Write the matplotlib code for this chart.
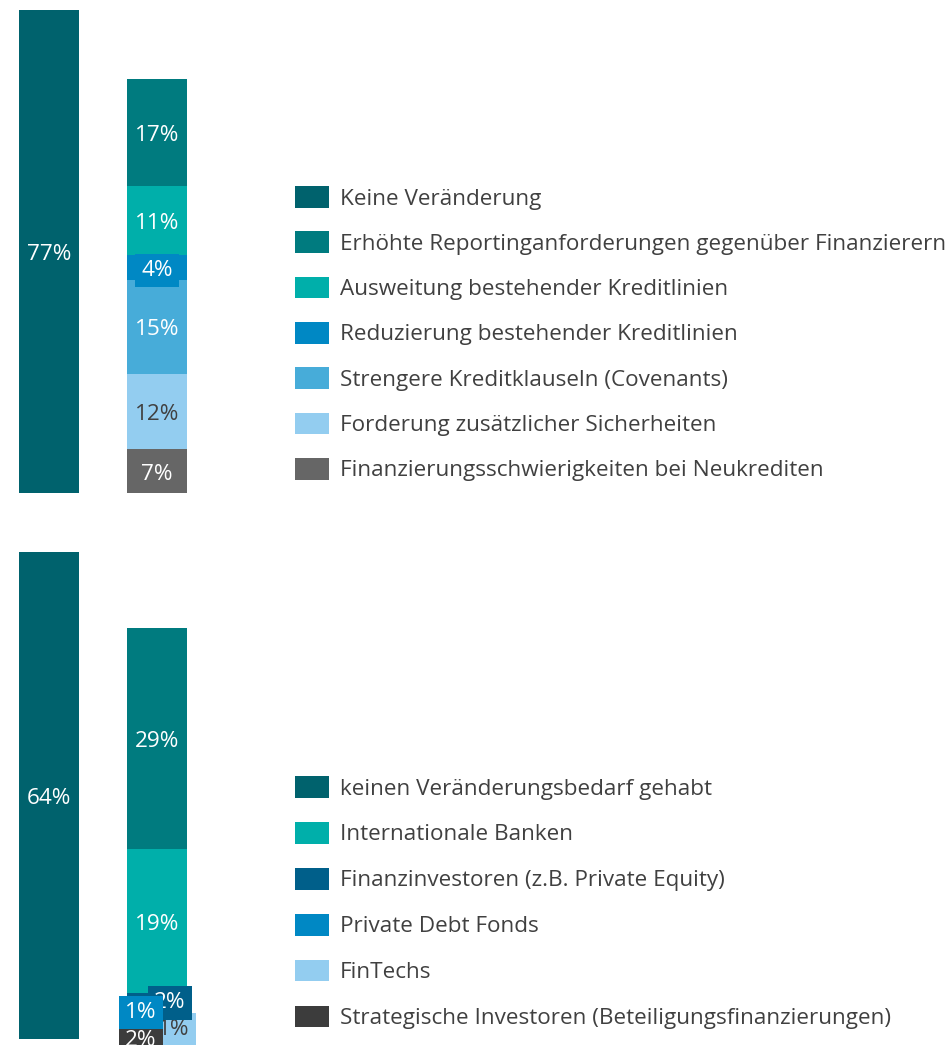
import matplotlib
matplotlib.use("Agg")
import matplotlib.pyplot as plt
from matplotlib.patches import Patch

plt.rcParams['font.family'] = ['Open Sans', 'DejaVu Sans']

TEXT = '#404040'

# ---------------- data: top chart ----------------
top_single_label = 'Keine Veränderung'
top_single_value = 77
top_stack_labels = ['Finanzierungsschwierigkeiten bei Neukrediten',
                    'Forderung zusätzlicher Sicherheiten',
                    'Strengere Kreditklauseln (Covenants)',
                    'Reduzierung bestehender Kreditlinien',
                    'Ausweitung bestehender Kreditlinien',
                    'Erhöhte Reportinganforderungen gegenüber Finanzierern']
top_stack_values = [7, 12, 15, 4, 11, 17]
top_legend_order = ['Keine Veränderung',
                    'Erhöhte Reportinganforderungen gegenüber Finanzierern',
                    'Ausweitung bestehender Kreditlinien',
                    'Reduzierung bestehender Kreditlinien',
                    'Strengere Kreditklauseln (Covenants)',
                    'Forderung zusätzlicher Sicherheiten',
                    'Finanzierungsschwierigkeiten bei Neukrediten']

# ---------------- data: bottom chart ----------------
bot_single_label = 'keinen Veränderungsbedarf gehabt'
bot_single_value = 64
bot_stack_labels = ['Strategische Investoren (Beteiligungsfinanzierungen)',
                    'FinTechs',
                    'Private Debt Fonds',
                    'Finanzinvestoren (z.B. Private Equity)',
                    'Internationale Banken',
                    '']
bot_stack_values = [2, 1, 1, 2, 19, 29]
bot_legend_order = ['keinen Veränderungsbedarf gehabt',
                    'Internationale Banken',
                    'Finanzinvestoren (z.B. Private Equity)',
                    'Private Debt Fonds',
                    'FinTechs',
                    'Strategische Investoren (Beteiligungsfinanzierungen)']

colors = {
    'Keine Veränderung': '#00626D',
    'Erhöhte Reportinganforderungen gegenüber Finanzierern': '#007B7F',
    'Ausweitung bestehender Kreditlinien': '#00AFAA',
    'Reduzierung bestehender Kreditlinien': '#0088C4',
    'Strengere Kreditklauseln (Covenants)': '#47ACD9',
    'Forderung zusätzlicher Sicherheiten': '#93CDF0',
    'Finanzierungsschwierigkeiten bei Neukrediten': '#666666',
    'keinen Veränderungsbedarf gehabt': '#00626D',
    'Internationale Banken': '#00AFAA',
    'Finanzinvestoren (z.B. Private Equity)': '#005F8A',
    'Private Debt Fonds': '#0088C4',
    'FinTechs': '#93CDF0',
    'Strategische Investoren (Beteiligungsfinanzierungen)': '#3C3C3C',
    '': '#007B7F',
}
dark_text = {'Forderung zusätzlicher Sicherheiten', 'FinTechs'}

# label offsets in pixels (dx, dy) and stacking order for crowded labels
label_offsets = {
    'Finanzinvestoren (z.B. Private Equity)': (13, 1),
    'Private Debt Fonds': (-16, 3),
    'FinTechs': (17, -7),
    'Strategische Investoren (Beteiligungsfinanzierungen)': (-16, -6),
}
label_z = {
    'FinTechs': 5,
    'Strategische Investoren (Beteiligungsfinanzierungen)': 6,
    'Finanzinvestoren (z.B. Private Equity)': 7,
    'Private Debt Fonds': 8,
}

W, H = 952, 1045
fig = plt.figure(figsize=(W / 100, H / 100), dpi=100)

FS = 16.2
BAR_W = 60 / 108
BASE_DY = -3


def px_axes(x0, x1, ytop, ybot):
    return fig.add_axes([x0 / W, (H - ybot) / H, (x1 - x0) / W, (ybot - ytop) / H])


def label(ax, x, y, name, val):
    dx, dy = label_offsets.get(name, (0, 0))
    c = colors[name]
    ax.annotate(f'{val}%', xy=(x, y), xytext=(dx, dy + BASE_DY), textcoords='offset pixels',
                ha='center', va='center', fontsize=FS,
                color=TEXT if name in dark_text else 'white',
                bbox=dict(boxstyle='square,pad=0.27', fc=c, ec='none'),
                zorder=label_z.get(name, 4), annotation_clip=False)


def draw(ax, single_label, single_value, stack_labels, stack_values):
    ax.bar(0, single_value, width=BAR_W, color=colors[single_label], zorder=2)
    label(ax, 0, single_value / 2, single_label, single_value)
    bottom = 0
    for name, v in zip(stack_labels, stack_values):
        ax.bar(1, v, width=BAR_W, bottom=bottom, color=colors[name], zorder=2)
        label(ax, 1, bottom + v / 2, name, v)
        bottom += v
    ax.set_xlim(-BAR_W / 2, 1 + BAR_W / 2)
    ax.set_ylim(0, single_value)
    ax.axis('off')


ax1 = px_axes(19, 187, 10, 493)
draw(ax1, top_single_label, top_single_value, top_stack_labels, top_stack_values)

ax2 = px_axes(19, 187, 552, 1039)
draw(ax2, bot_single_label, bot_single_value, bot_stack_labels, bot_stack_values)


def legend(names, top_px, spacing_px):
    handles = [Patch(facecolor=colors[n], edgecolor='none') for n in names]
    fs_px = FS * 100 / 72
    fig.legend(handles, names, loc='upper left',
               bbox_to_anchor=(295 / W, 1 - top_px / H),
               frameon=False, fontsize=FS, labelcolor=TEXT,
               handlelength=34 / fs_px, handleheight=25 / fs_px,
               handletextpad=11 / fs_px, labelspacing=spacing_px / fs_px,
               borderpad=0, borderaxespad=0)


legend(top_legend_order, 186, 21.8)
legend(bot_legend_order, 776, 22.4)

fig.savefig('out.png', dpi=100)
